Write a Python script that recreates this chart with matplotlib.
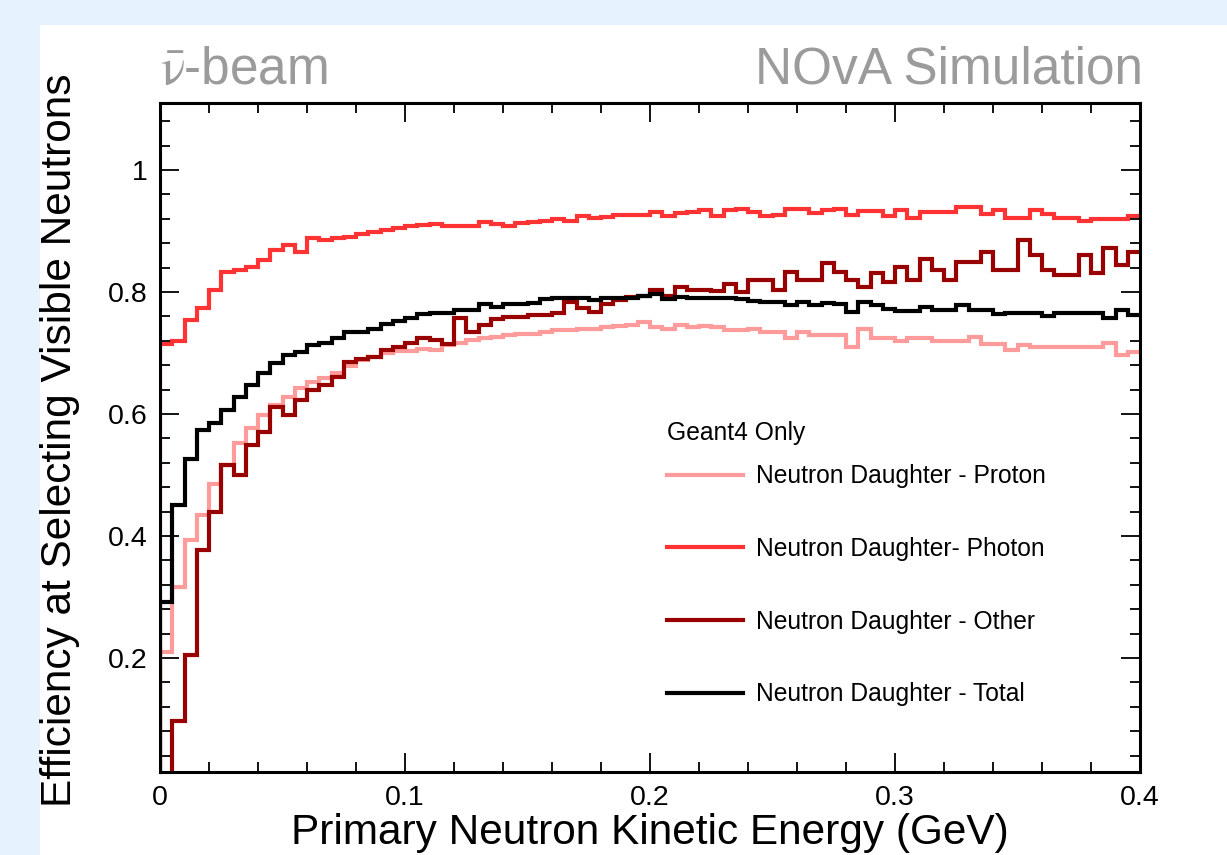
import numpy as np
import matplotlib
matplotlib.use("Agg")
import matplotlib.pyplot as plt
from matplotlib.patches import Rectangle
from matplotlib.ticker import MultipleLocator, FuncFormatter

# --- data: 80 bins of 5 MeV between 0 and 0.4 GeV ---
E_MIN, E_MAX, N_BINS = 0.0, 0.4, 80

proton = [
    0.210, 0.317, 0.393, 0.434, 0.486, 0.516, 0.552, 0.577, 0.598, 0.615,
    0.628, 0.642, 0.653, 0.659, 0.668, 0.678, 0.688, 0.693, 0.700, 0.703,
    0.703, 0.707, 0.705, 0.713, 0.716, 0.721, 0.725, 0.727, 0.730, 0.732,
    0.732, 0.735, 0.738, 0.738, 0.740, 0.740, 0.743, 0.745, 0.746, 0.751,
    0.743, 0.740, 0.746, 0.742, 0.744, 0.742, 0.738, 0.738, 0.739, 0.735,
    0.735, 0.724, 0.735, 0.730, 0.730, 0.730, 0.710, 0.739, 0.724, 0.724,
    0.719, 0.724, 0.724, 0.719, 0.719, 0.719, 0.727, 0.715, 0.715, 0.705,
    0.713, 0.710, 0.710, 0.710, 0.710, 0.710, 0.710, 0.716, 0.697, 0.702,
]
photon = [
    0.715, 0.720, 0.754, 0.774, 0.803, 0.833, 0.836, 0.841, 0.852, 0.869,
    0.877, 0.866, 0.888, 0.885, 0.888, 0.890, 0.895, 0.898, 0.902, 0.905,
    0.908, 0.910, 0.911, 0.908, 0.908, 0.908, 0.915, 0.912, 0.908, 0.914,
    0.915, 0.917, 0.919, 0.917, 0.924, 0.922, 0.923, 0.926, 0.926, 0.926,
    0.932, 0.924, 0.929, 0.932, 0.934, 0.925, 0.934, 0.937, 0.932, 0.925,
    0.926, 0.937, 0.937, 0.930, 0.934, 0.936, 0.926, 0.933, 0.933, 0.925,
    0.935, 0.921, 0.932, 0.932, 0.932, 0.940, 0.940, 0.928, 0.935, 0.922,
    0.922, 0.934, 0.928, 0.922, 0.922, 0.917, 0.919, 0.919, 0.919, 0.925,
]
other = [
    0.010, 0.096, 0.205, 0.377, 0.440, 0.516, 0.500, 0.549, 0.571, 0.612,
    0.598, 0.623, 0.639, 0.648, 0.661, 0.686, 0.691, 0.694, 0.705, 0.710,
    0.716, 0.724, 0.721, 0.715, 0.757, 0.735, 0.746, 0.755, 0.759, 0.759,
    0.762, 0.762, 0.765, 0.783, 0.774, 0.767, 0.781, 0.787, 0.792, 0.794,
    0.803, 0.793, 0.809, 0.804, 0.804, 0.802, 0.813, 0.800, 0.820, 0.820,
    0.804, 0.833, 0.820, 0.820, 0.848, 0.833, 0.820, 0.809, 0.831, 0.817,
    0.841, 0.820, 0.855, 0.836, 0.820, 0.850, 0.850, 0.866, 0.836, 0.836,
    0.885, 0.861, 0.836, 0.828, 0.828, 0.861, 0.831, 0.872, 0.844, 0.866,
]
total = [
    0.292, 0.451, 0.527, 0.574, 0.585, 0.607, 0.628, 0.648, 0.667, 0.683,
    0.697, 0.702, 0.713, 0.716, 0.724, 0.735, 0.735, 0.740, 0.748, 0.753,
    0.757, 0.764, 0.765, 0.765, 0.770, 0.770, 0.780, 0.776, 0.780, 0.781,
    0.782, 0.788, 0.790, 0.790, 0.790, 0.787, 0.790, 0.791, 0.790, 0.793,
    0.797, 0.789, 0.792, 0.790, 0.790, 0.790, 0.790, 0.789, 0.785, 0.784,
    0.784, 0.779, 0.784, 0.779, 0.782, 0.781, 0.768, 0.784, 0.779, 0.773,
    0.769, 0.769, 0.776, 0.770, 0.770, 0.779, 0.770, 0.770, 0.764, 0.766,
    0.766, 0.766, 0.761, 0.765, 0.765, 0.765, 0.765, 0.758, 0.770, 0.762,
]

labels = ["Neutron Daughter - Proton", "Neutron Daughter- Photon",
          "Neutron Daughter - Other", "Neutron Daughter - Total"]
colors = ["#ff9b9b", "#ff3333", "#990000", "#000000"]

# --- style ---
plt.rcParams["font.family"] = ["Liberation Sans", "DejaVu Sans"]
plt.rcParams["mathtext.fontset"] = "stix"

fig = plt.figure(figsize=(12.27, 8.55), dpi=100)
fig.patch.set_facecolor("#e6f2fd")
# white pad like the original canvas
fig.patches.append(Rectangle((40 / 1227, 0), 1 - 40 / 1227, 1 - 25 / 855,
                             transform=fig.transFigure, facecolor="white",
                             edgecolor="none", zorder=-10))

ax = fig.add_axes([160 / 1227, 1 - 772 / 855, 980 / 1227, 669 / 855])
ax.set_facecolor("white")

edges = np.linspace(E_MIN, E_MAX, N_BINS + 1)
for vals, col, lab in zip([proton, photon, other, total], colors, labels):
    # histogram outline, rising from zero at the first edge like ROOT does
    ax.vlines(edges[0], 0, vals[0], color=col, linewidth=3.0)
    ax.stairs(vals, edges, baseline=None, color=col, linewidth=3.0, label=lab)

ax.set_xlim(E_MIN, E_MAX)
ax.set_ylim(0.013, 1.11)

ax.xaxis.set_major_locator(MultipleLocator(0.1))
ax.xaxis.set_minor_locator(MultipleLocator(0.02))
ax.yaxis.set_major_locator(MultipleLocator(0.2))
ax.yaxis.set_minor_locator(MultipleLocator(0.04))
ax.xaxis.set_major_formatter(FuncFormatter(lambda v, p: f"{v:g}"))
ax.yaxis.set_major_formatter(FuncFormatter(lambda v, p: f"{v:g}"))

ax.tick_params(which="both", direction="in", top=True, right=True,
               width=1.3, labelsize=20.5)
ax.tick_params(which="major", length=14, pad=9)
ax.tick_params(which="minor", length=7)
for sp in ax.spines.values():
    sp.set_linewidth(2.2)
    sp.set_zorder(5)

ax.set_xlabel("Primary Neutron Kinetic Energy (GeV)", fontsize=30.5)
ax.set_ylabel("Efficiency at Selecting Visible Neutrons", fontsize=30.5)
ax.xaxis.set_label_coords(0.5, -0.061)
ax.yaxis.set_label_coords(-0.082, 0.496)

fig.text(160 / 1227, 1 - 84 / 855, r"$\bar{\mathrm{\nu}}$-beam", fontsize=37,
         color="#9b9b9b", ha="left", va="baseline")
fig.text(1143 / 1227, 1 - 84 / 855, "NOvA Simulation", fontsize=37,
         color="#9b9b9b", ha="right", va="baseline")

leg = ax.legend(loc="upper left", bbox_to_anchor=(0.517, 0.525), frameon=False,
                fontsize=17.7, title="Geant4 Only", title_fontsize=17.7,
                alignment="left", labelspacing=1.98, handlelength=3.1,
                handletextpad=0.55, borderpad=0, borderaxespad=0)
leg._legend_box.sep = 14
for h in leg.get_patches() + leg.get_lines():
    h.set_linewidth(3.0)

fig.savefig("out.png", dpi=100, facecolor=fig.get_facecolor())
